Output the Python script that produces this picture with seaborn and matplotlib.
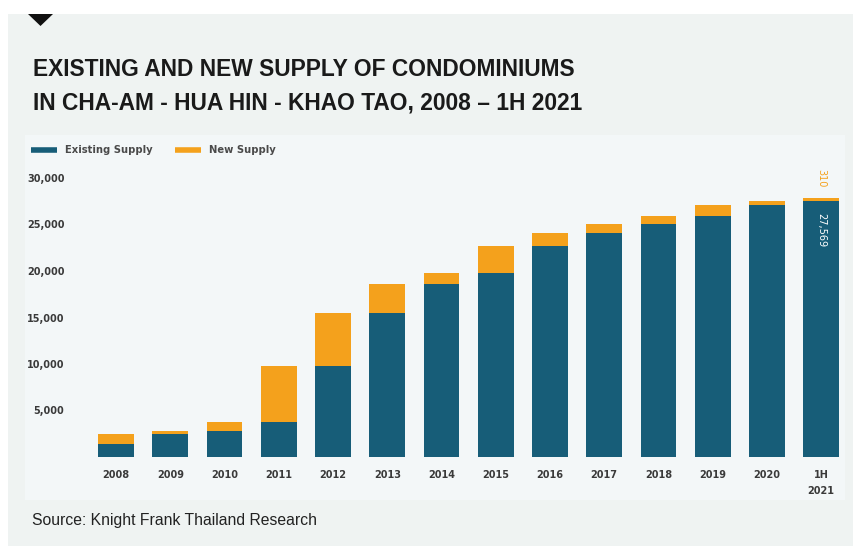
import matplotlib
matplotlib.use("Agg")
import matplotlib.pyplot as plt
from matplotlib.lines import Line2D
from matplotlib.patches import Rectangle, Polygon
import seaborn as sns
import pandas as pd

# Condominium supply, Cha-am / Hua Hin / Khao Tao (units)
periods = ["2008", "2009", "2010", "2011", "2012", "2013", "2014",
           "2015", "2016", "2017", "2018", "2019", "2020", "1H\n2021"]
existing_supply = [1400, 2450, 2800, 3770, 9790, 15480, 18630,
                   19800, 22720, 24090, 25020, 25910, 27130, 27569]
new_supply = [1050, 350, 970, 6020, 5690, 3150, 1170,
              2920, 1370, 930, 890, 1220, 439, 310]
y_ticks = [0, 5000, 10000, 15000, 20000, 25000, 30000]

TEAL = "#175d78"
ORANGE = "#f4a11c"
TICK_GREY = "#3a3a3a"
SMALL_FONT = ["DejaVu Sans"]

df = pd.DataFrame({"period": periods,
                   "existing": existing_supply,
                   "new": new_supply})
df["total"] = df["existing"] + df["new"]

sns.set_theme(style="white")
plt.rcParams["font.family"] = ["Liberation Sans", "DejaVu Sans"]

W, H = 854, 546
fig = plt.figure(figsize=(W / 100, H / 100), dpi=100, facecolor="white")


def fx(px):
    return px / W


def fy(py):
    return 1 - py / H


# page panel and chart panel, kept behind the axes
fig.patches.append(Rectangle((fx(8), -0.01), 1.02 - fx(8), fy(14) + 0.01,
                             transform=fig.transFigure, facecolor="#eff3f2",
                             edgecolor="none", zorder=-3))
fig.patches.append(Rectangle((fx(25), fy(500)), fx(845) - fx(25), fy(135) - fy(500),
                             transform=fig.transFigure, facecolor="#f3f7f8",
                             edgecolor="none", zorder=-2))
# section marker
fig.patches.append(Polygon([(fx(28), fy(14)), (fx(53), fy(14)), (fx(40.5), fy(26))],
                           closed=True, transform=fig.transFigure,
                           facecolor="#111111", edgecolor="none", zorder=-1))

fig.text(fx(33), fy(69), "EXISTING AND NEW SUPPLY OF CONDOMINIUMS",
         fontsize=16.4, fontweight="bold", color="#1a1a1a", va="center", ha="left")
fig.text(fx(33), fy(103), "IN CHA-AM - HUA HIN - KHAO TAO, 2008 \u2013 1H 2021",
         fontsize=16.4, fontweight="bold", color="#1a1a1a", va="center", ha="left")
fig.text(fx(32), fy(520), "Source: Knight Frank Thailand Research",
         fontsize=11.3, color="#222222", va="center", ha="left")

ax = fig.add_axes([fx(70), fy(457), fx(845) - fx(70), fy(178) - fy(457)])
ax.set_facecolor("none")

sns.barplot(data=df, x="period", y="total", color=ORANGE, width=0.66,
            saturation=1, linewidth=0, ax=ax, zorder=2)
sns.barplot(data=df, x="period", y="existing", color=TEAL, width=0.66,
            saturation=1, linewidth=0, ax=ax, zorder=3)

ax.set_xlim(-0.85, 13.44)
ax.set_ylim(0, 30000)
ax.set_yticks(y_ticks)
ax.set_yticklabels(["" if v == 0 else f"{v:,}" for v in y_ticks])
ax.set_xlabel("")
ax.set_ylabel("")
for s in ax.spines.values():
    s.set_visible(False)

ax.tick_params(axis="y", length=0, pad=4)
ax.tick_params(axis="x", length=0, pad=9)
for lab in ax.get_yticklabels() + ax.get_xticklabels():
    lab.set_fontfamily(SMALL_FONT)
    lab.set_fontsize(7)
    lab.set_fontweight("bold")
    lab.set_color(TICK_GREY)
for lab in ax.get_xticklabels():
    lab.set_linespacing(1.75)

# value labels on the latest period
last = len(df) - 1
ax.text(last, df["existing"].iloc[last] - 1300, f"{df['existing'].iloc[last]:,}",
        rotation=270, ha="center", va="top", color="white", fontsize=7,
        family=SMALL_FONT, zorder=4)
ax.text(last, df["total"].iloc[last] + 1150, f"{df['new'].iloc[last]:,}",
        rotation=270, ha="center", va="bottom", color=ORANGE, fontsize=7,
        family=SMALL_FONT, zorder=4)

handles = [Line2D([], [], color=TEAL, lw=4, solid_capstyle="butt"),
           Line2D([], [], color=ORANGE, lw=4, solid_capstyle="butt")]
leg = fig.legend(handles, ["Existing Supply", "New Supply"], loc="center left",
                 bbox_to_anchor=(fx(22), fy(150)), ncol=2, frameon=False,
                 handlelength=2.6, handletextpad=0.8, columnspacing=2.2,
                 prop=dict(family=SMALL_FONT, size=7.2, weight="bold"))
for t in leg.get_texts():
    t.set_color("#4a4a4a")

fig.savefig("out.png", dpi=100, facecolor="white")
